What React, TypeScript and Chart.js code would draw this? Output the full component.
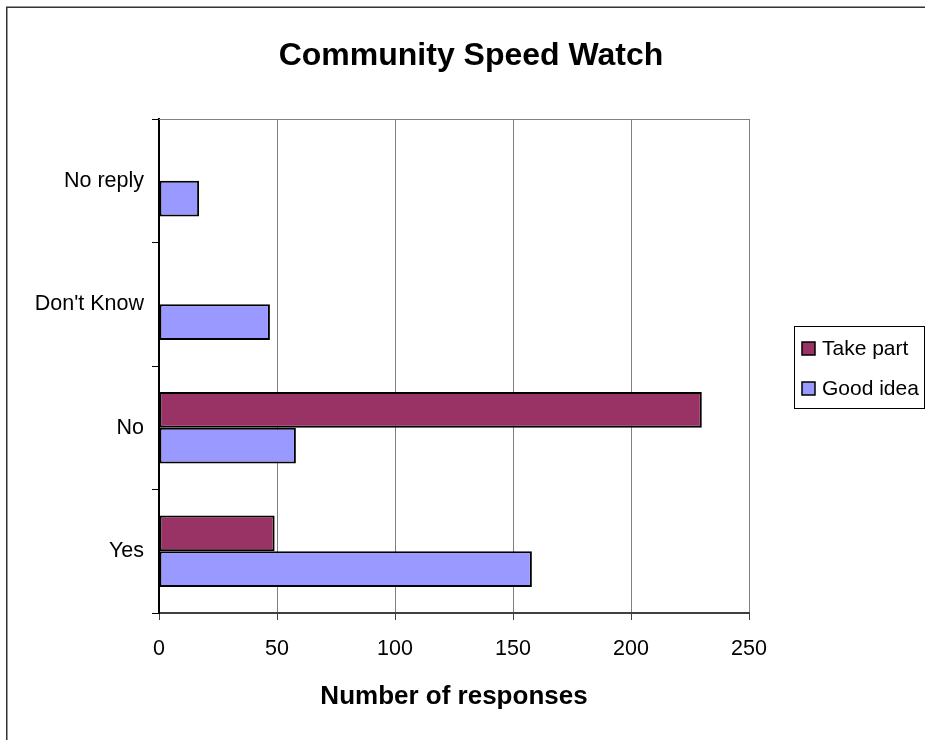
import React, { useEffect, useRef } from 'react';
import { Chart, registerables } from 'chart.js';

Chart.register(...registerables);

const chartTitle = 'Community Speed Watch';
const axisTitle = 'Number of responses';
const categories = ['No reply', "Don't Know", 'No', 'Yes'];
const seriesNames = ['Take part', 'Good idea'];
const takePart = [null, null, 230, 49];
const goodIdea = [17, 47, 58, 158];
const seriesColors = ['#993366', '#9999FF'];
const xMin = 0;
const xMax = 250;
const xStep = 50;

const FONT = '"Liberation Sans", Arial, sans-serif';

const decorPlugin = {
  id: 'decor',
  beforeDatasetsDraw(chart: any) {
    const { ctx, chartArea } = chart;
    ctx.save();
    ctx.strokeStyle = '#808080';
    ctx.lineWidth = 1;
    ctx.beginPath();
    ctx.moveTo(chartArea.left, Math.round(chartArea.top) + 0.5);
    ctx.lineTo(chartArea.right, Math.round(chartArea.top) + 0.5);
    ctx.stroke();
    ctx.restore();
  },
  afterDraw(chart: any) {
    const { ctx } = chart;
    ctx.save();
    // outer frame (left and top)
    ctx.strokeStyle = '#333333';
    ctx.lineWidth = 1.5;
    ctx.beginPath();
    ctx.moveTo(6.75, 740);
    ctx.lineTo(6.75, 7.25);
    ctx.lineTo(925, 7.25);
    ctx.stroke();

    // title
    ctx.fillStyle = '#000';
    ctx.font = `bold 32px ${FONT}`;
    ctx.textAlign = 'center';
    ctx.textBaseline = 'middle';
    ctx.fillText(chartTitle, 471, 56);

    // legend
    ctx.lineWidth = 1;
    ctx.strokeStyle = '#000';
    ctx.strokeRect(794.5, 326.5, 130, 82);
    ctx.font = `21px ${FONT}`;
    ctx.textAlign = 'left';
    chart.data.datasets.forEach((ds: any, i: number) => {
      const y = 342 + i * 40;
      ctx.fillStyle = ds.backgroundColor;
      ctx.fillRect(802, y, 13, 13);
      ctx.lineWidth = 1.5;
      ctx.strokeStyle = '#000';
      ctx.strokeRect(802, y, 13, 13);
      ctx.fillStyle = '#000';
      ctx.fillText(ds.label, 822, y + 7);
    });
    ctx.restore();
  },
};

export default function App() {
  const ref = useRef<HTMLCanvasElement | null>(null);

  useEffect(() => {
    if (!ref.current) return;
    const chart = new Chart(ref.current, {
      type: 'bar',
      data: {
        labels: categories,
        datasets: [
          {
            label: seriesNames[0],
            data: takePart,
            backgroundColor: seriesColors[0],
            borderColor: '#000',
            borderWidth: 2,
            borderSkipped: false,
            barPercentage: 1.0,
            categoryPercentage: 0.58,
          },
          {
            label: seriesNames[1],
            data: goodIdea,
            backgroundColor: seriesColors[1],
            borderColor: '#000',
            borderWidth: 2,
            borderSkipped: false,
            barPercentage: 1.0,
            categoryPercentage: 0.58,
          },
        ],
      },
      options: {
        indexAxis: 'y',
        responsive: false,
        animation: false,
        layout: { padding: { left: 0, top: 119, right: 176, bottom: 0 } },
        plugins: {
          legend: { display: false },
          title: { display: false },
          tooltip: { enabled: false },
        },
        scales: {
          x: {
            type: 'linear',
            min: xMin,
            max: xMax,
            ticks: {
              stepSize: xStep,
              color: '#000',
              font: { family: FONT, size: 21.5 },
              padding: 16,
            },
            grid: {
              color: '#808080',
              lineWidth: 1,
              tickLength: 7,
              tickColor: '#404040',
            },
            border: { color: '#404040', width: 2 },
            title: {
              display: true,
              text: axisTitle,
              color: '#000',
              font: { family: FONT, size: 26, weight: 'bold' },
              padding: { top: 0, bottom: 28 },
            },
            afterFit(scale: any) {
              scale.height = 127;
            },
          },
          y: {
            type: 'category',
            ticks: {
              color: '#000',
              font: { family: FONT, size: 21.5 },
              padding: 8,
            },
            grid: {
              offset: true,
              drawOnChartArea: false,
              tickLength: 7,
              tickColor: '#000',
            },
            border: { color: '#000', width: 2 },
            afterFit(scale: any) {
              scale.width = 159;
            },
          },
        },
      },
      plugins: [decorPlugin],
    });
    return () => chart.destroy();
  }, []);

  return (
    <div style={{ position: 'fixed', left: 0, top: 0, width: 925, height: 740, background: '#fff' }}>
      <canvas ref={ref} width={925} height={740} style={{ display: 'block' }} />
    </div>
  );
}
